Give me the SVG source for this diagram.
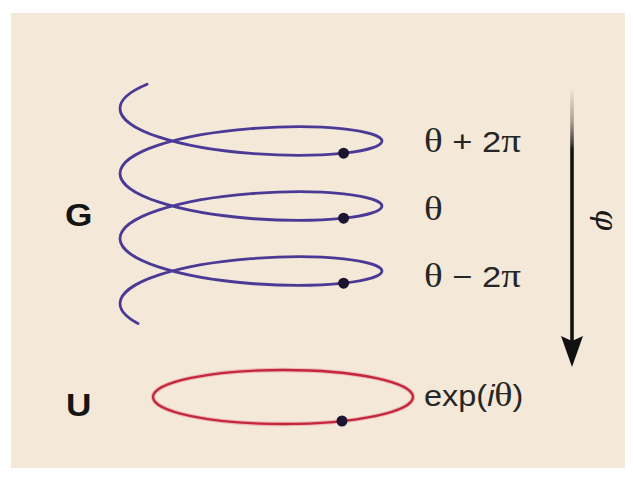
<svg xmlns="http://www.w3.org/2000/svg" width="633" height="482" viewBox="0 0 633 482">
<defs>
<style>
.helix{fill:none;stroke:#4a3a96;stroke-width:2.8;stroke-linecap:round}
.ring{fill:none;stroke:#c4263a;stroke-width:2.3}
.ringhalo{fill:none;stroke:#e59aa2;stroke-width:4.5;opacity:0.6}
.dot{fill:#1c1530}
.lab{font-family:"Liberation Sans",Arial,sans-serif;fill:#262626}
.big{font-family:"Liberation Sans",Arial,sans-serif;font-weight:bold;font-size:32px;fill:#141414}
.gr{font-family:"Liberation Serif","Times New Roman",serif;font-size:34px}
</style>
<linearGradient id="fade" gradientUnits="userSpaceOnUse" x1="0" y1="88" x2="0" y2="150">
<stop offset="0" stop-color="#111" stop-opacity="0"/>
<stop offset="0.55" stop-color="#111" stop-opacity="0.35"/>
<stop offset="0.9" stop-color="#111" stop-opacity="0.8"/>
<stop offset="1" stop-color="#111" stop-opacity="1"/>
</linearGradient>
<marker id="head" viewBox="0 0 31 22" refX="5" refY="11" markerWidth="31" markerHeight="22" markerUnits="userSpaceOnUse" orient="auto">
<path d="M0,0 L31,11 L0,22 L5,11 Z" fill="#111"/>
</marker>
</defs>
<rect x="0" y="0" width="633" height="482" fill="#ffffff"/>
<rect x="11" y="13" width="614" height="455" fill="#f4e9d8"/>

<g id="helix">
<path class="helix" d="M147.1,84.2 C129.7,91.4 120,100 120,108.5 C120,118.7 134.1,128.9 158.4,136.9 C182.6,144.9 216.7,150.8 251,153.4 C285.3,156.2 319.4,155.8 343.6,153.2 C367.9,150.6 382,145.8 382,141 C382,136.2 367.9,131.4 343.6,128.8 C319.4,126.2 285.3,125.9 251,128.6 C216.7,131.3 182.6,137.1 158.4,145.1 C134.1,153.1 120,163.3 120,173.5 C120,183.7 134.1,193.9 158.4,201.9 C182.6,209.9 216.7,215.8 251,218.5 C285.3,221.2 319.4,220.8 343.6,218.2 C367.9,215.6 382,210.8 382,206 C382,201.2 367.9,196.4 343.6,193.8 C319.4,191.2 285.3,190.9 251,193.6 C216.7,196.3 182.6,202.1 158.4,210.1 C134.1,218.1 120,228.3 120,238.5 C120,248.7 134.1,258.9 158.4,266.9 C182.6,274.9 216.7,280.8 251,283.5 C285.3,286.2 319.4,285.8 343.6,283.2 C367.9,280.6 382,275.8 382,271.1 C382,266.3 367.9,261.5 343.6,258.9 C319.4,256.3 285.3,256 251,258.7 C216.7,261.4 182.6,267.2 158.4,275.2 C134.1,283.2 120,293.4 120,303.6 C120,310.5 126.3,317.4 138,323.6"/>
<circle class="dot" cx="343.6" cy="153.2" r="5.5"/>
<circle class="dot" cx="343.6" cy="218.2" r="5.5"/>
<circle class="dot" cx="343.6" cy="283.2" r="5.5"/>
</g>

<g id="circle-U">
<ellipse class="ringhalo" cx="283" cy="397" rx="130" ry="27"/>
<ellipse class="ring" cx="283" cy="397" rx="130" ry="27"/>
<circle class="dot" cx="342" cy="421" r="5.5"/>
</g>

<g id="label-G"><text class="big" transform="translate(65,226) scale(1.1,1)">G</text></g>
<g id="label-U"><text class="big" transform="translate(66,416) scale(1.1,1)">U</text></g>

<g id="label-theta-plus">
<text class="lab" font-size="30" transform="translate(424,152) scale(1.15,1)"><tspan class="gr">θ</tspan> + 2<tspan class="gr">π</tspan></text>
</g>
<g id="label-theta">
<text class="lab" font-size="30" transform="translate(424,220) scale(1.15,1)"><tspan class="gr">θ</tspan></text>
</g>
<g id="label-theta-minus">
<text class="lab" font-size="30" transform="translate(424,287) scale(1.15,1)"><tspan class="gr">θ</tspan> − 2<tspan class="gr">π</tspan></text>
</g>
<g id="label-exp">
<text class="lab" font-size="29" transform="translate(424,406) scale(1.12,1)">exp(<tspan font-style="italic">i</tspan><tspan class="gr" font-size="31">θ</tspan>)</text>
</g>
<g id="label-phi">
<text font-family="DejaVu Serif, serif" font-size="30" font-style="italic" fill="#1a1a1a" text-anchor="middle" transform="translate(605,220) rotate(90)" dy="9">φ</text>
</g>

<g id="connectors">
<line x1="572" y1="88" x2="572" y2="341" stroke="url(#fade)" stroke-width="3.6" marker-end="url(#head)"/>
</g>
</svg>
